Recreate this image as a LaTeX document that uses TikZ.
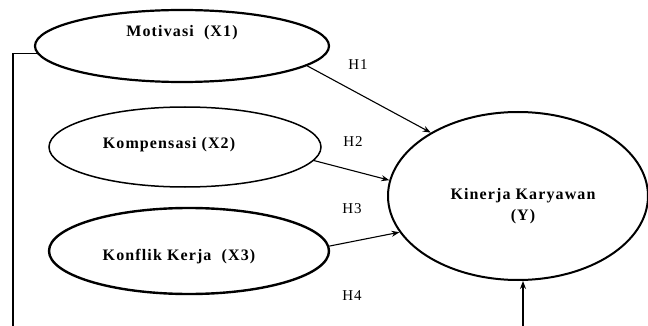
\documentclass[tikz,border=0pt]{standalone}
\usepackage{fontspec}
\setmainfont{Liberation Serif}
\newfontfamily\lblfont[LetterSpace=7]{Liberation Serif}
\usetikzlibrary{shapes.geometric,arrows.meta}
\begin{document}
\begin{tikzpicture}[x=1pt,y=-1pt,
  oval/.style={draw,ellipse,inner sep=0pt,line width=#1},
  oval/.default=2pt,
  txt/.style={font=\lblfont\bfseries\fontsize{16}{19}\selectfont,inner sep=0pt,align=center},
  hyp/.style={font=\lblfont\fontsize{15}{17}\selectfont,inner sep=0pt},
  arr/.style={-{Stealth[length=8pt,width=6pt]},line width=1.1pt},
  ln/.style={line width=1.3pt}]
\useasboundingbox (0,0) rectangle (648,326);
\node[oval=2.2pt,minimum width=294pt,minimum height=72pt] (m) at (182,46) {};
\node[txt] (mt) at (182,33) {Motivasi\ \ (X1)};
\node[oval=1.5pt,minimum width=272pt,minimum height=80pt] (kp) at (185,147) {};
\node[txt] (kpt) at (169,145) {Kompensasi (X2)};
\node[oval=2.4pt,minimum width=280pt,minimum height=86pt] (kf) at (189,251) {};
\node[txt] (kft) at (179,257) {Konflik Kerja\ \ (X3)};
\node[oval=2pt,minimum width=260pt,minimum height=168pt] (y) at (518,196) {};
\node[txt] (yt) at (523,206) {Kinerja Karyawan\\[2pt](Y)};
\node[hyp] (h1) at (358,65) {H1};
\node[hyp] (h2) at (353,142) {H2};
\node[hyp] (h3) at (352,209) {H3};
\node[hyp] (h4) at (352,296) {H4};
\coordinate (lb) at (13,327);
\coordinate (yb) at (523,327);
\draw[ln] (m.183) -| (lb);
\draw[arr] (m.-9) -- (y.144);
\draw[arr] (kp.-6) -- (y.173);
\draw[arr] (kf.2) -- (y.197);
\draw[arr] (yb) -- (yb |- y.south);
\end{tikzpicture}
\end{document}
